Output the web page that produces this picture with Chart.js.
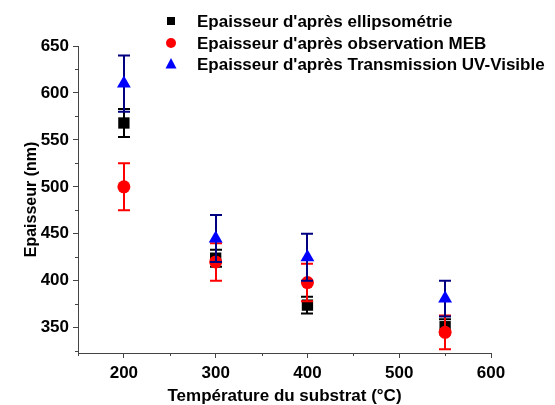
<!DOCTYPE html>
<html>
<head>
<meta charset="utf-8">
<script src="https://cdn.jsdelivr.net/npm/chart.js@4/dist/chart.umd.min.js"></script>
<style>
    html, body { margin: 0; padding: 0; background: #fff; }
</style>
</head>
<body>
<canvas id="epaisseur-chart" width="555" height="405"></canvas>
<script>
const temperatures = [200, 300, 400, 550];
const ellipsometrie = [568, 424, 374, 351];
const ellipsometrieErr = [15, 9, 9, 8];
const meb = [500, 420, 398, 345];
const mebErr = [25, 20, 20, 18];
const uvVisible = [610, 445, 425, 381];
const uvVisibleErr = [30, 25, 25, 19];

const seriesLabels = [
    "Epaisseur d'après ellipsométrie",
    "Epaisseur d'après observation MEB",
    "Epaisseur d'après Transmission UV-Visible",
];
const xTicks = [200, 300, 400, 500, 600];
const xMinorTicks = [150, 250, 350, 450, 550];
const yTicks = [350, 400, 450, 500, 550, 600, 650];
const yMinorTicks = [325, 375, 425, 475, 525, 575, 625];

const FONT = "'Liberation Sans', Arial, sans-serif";
const AXIS_COLOR = "#444";

function toPoints(values) {
    return temperatures.map((t, i) => ({ x: t, y: values[i] }));
}

// error bars are drawn just before each dataset so the markers sit on top
const errorBars = {
    id: "errorBars",
    beforeDatasetDraw(chart, args) {
        const ds = chart.data.datasets[args.index];
        const xs = chart.scales.x;
        const ys = chart.scales.y;
        const ctx = chart.ctx;
        ctx.save();
        ctx.strokeStyle = ds.errorColor;
        ctx.lineWidth = 2;
        ds.data.forEach((p, i) => {
            const px = Math.round(xs.getPixelForValue(p.x));
            const top = ys.getPixelForValue(p.y + ds.errors[i]);
            const bot = ys.getPixelForValue(p.y - ds.errors[i]);
            ctx.beginPath();
            ctx.moveTo(px, top);
            ctx.lineTo(px, bot);
            ctx.moveTo(px - 6, top);
            ctx.lineTo(px + 6, top);
            ctx.moveTo(px - 6, bot);
            ctx.lineTo(px + 6, bot);
            ctx.stroke();
        });
        ctx.restore();
    },
};

const minorTicks = {
    id: "minorTicks",
    afterDraw(chart) {
        const ctx = chart.ctx;
        const xs = chart.scales.x;
        const ys = chart.scales.y;
        const area = chart.chartArea;
        ctx.save();
        ctx.strokeStyle = AXIS_COLOR;
        ctx.lineWidth = 1;
        ctx.beginPath();
        xMinorTicks.forEach((v) => {
            const px = Math.round(xs.getPixelForValue(v)) + 0.5;
            ctx.moveTo(px, area.bottom);
            ctx.lineTo(px, area.bottom + 3);
        });
        yMinorTicks.forEach((v) => {
            const py = Math.round(ys.getPixelForValue(v)) + 0.5;
            ctx.moveTo(area.left, py);
            ctx.lineTo(area.left - 3, py);
        });
        ctx.stroke();
        ctx.restore();
    },
};

function drawMarker(ctx, shape, x, y, size, color) {
    ctx.fillStyle = color;
    ctx.beginPath();
    if (shape === "rect") {
        ctx.rect(x - size / 2, y - size / 2, size, size);
    } else if (shape === "circle") {
        ctx.arc(x, y, size / 2, 0, Math.PI * 2);
    } else {
        ctx.moveTo(x, y - size * 0.55);
        ctx.lineTo(x + size / 2, y + size * 0.4);
        ctx.lineTo(x - size / 2, y + size * 0.4);
        ctx.closePath();
    }
    ctx.fill();
}

const sideLegend = {
    id: "sideLegend",
    afterDraw(chart) {
        const ctx = chart.ctx;
        const rows = [21, 43, 64];
        const sizes = [8, 10, 11];
        ctx.save();
        chart.data.datasets.forEach((ds, i) => {
            drawMarker(ctx, ds.pointStyle, 171, rows[i], sizes[i], ds.backgroundColor);
            ctx.fillStyle = "#000";
            ctx.font = "bold 17px " + FONT;
            ctx.textBaseline = "middle";
            ctx.textAlign = "left";
            ctx.fillText(ds.label, 197, rows[i] + 1);
        });
        ctx.restore();
    },
};

const ctx = document.getElementById("epaisseur-chart").getContext("2d");
new Chart(ctx, {
    type: "scatter",
    data: {
        datasets: [
            {
                label: seriesLabels[0],
                data: toPoints(ellipsometrie),
                errors: ellipsometrieErr,
                errorColor: "#000000",
                pointStyle: "rect",
                pointRadius: 8,
                backgroundColor: "#000000",
                borderWidth: 0,
                order: 3,
            },
            {
                label: seriesLabels[1],
                data: toPoints(meb),
                errors: mebErr,
                errorColor: "#ff0000",
                pointStyle: "circle",
                pointRadius: 6.5,
                backgroundColor: "#ff0000",
                borderWidth: 0,
                order: 2,
            },
            {
                label: seriesLabels[2],
                data: toPoints(uvVisible),
                errors: uvVisibleErr,
                errorColor: "#000080",
                pointStyle: "triangle",
                pointRadius: 8,
                backgroundColor: "#0000ff",
                borderWidth: 0,
                order: 1,
            },
        ],
    },
    options: {
        responsive: false,
        animation: false,
        layout: { padding: { left: 0, right: 64, top: 46, bottom: 0 } },
        plugins: {
            legend: { display: false },
            tooltip: { enabled: false },
        },
        scales: {
            x: {
                type: "linear",
                min: 150,
                max: 600,
                afterBuildTicks: (scale) => {
                    scale.ticks = xTicks.map((v) => ({ value: v }));
                },
                afterFit: (scale) => {
                    scale.height = 52;
                },
                grid: {
                    drawOnChartArea: false,
                    drawTicks: true,
                    tickLength: 5,
                    color: AXIS_COLOR,
                },
                border: { display: true, color: AXIS_COLOR, width: 1 },
                ticks: {
                    color: "#000",
                    padding: 5,
                    maxRotation: 0,
                    font: { family: FONT, size: 17, weight: "bold" },
                },
                title: {
                    display: true,
                    text: "Température du substrat (°C)",
                    color: "#000",
                    padding: { top: 0, bottom: -2 },
                    font: { family: FONT, size: 17, weight: "bold" },
                },
            },
            y: {
                type: "linear",
                min: 323,
                max: 650,
                afterBuildTicks: (scale) => {
                    scale.ticks = yTicks.map((v) => ({ value: v }));
                },
                afterFit: (scale) => {
                    scale.width = 78;
                },
                grid: {
                    drawOnChartArea: false,
                    drawTicks: true,
                    tickLength: 5,
                    color: AXIS_COLOR,
                },
                border: { display: true, color: AXIS_COLOR, width: 1 },
                ticks: {
                    color: "#000",
                    padding: 4,
                    font: { family: FONT, size: 17, weight: "bold" },
                },
                title: {
                    display: true,
                    text: "Epaisseur (nm)",
                    color: "#000",
                    padding: { top: 22, bottom: 0 },
                    font: { family: FONT, size: 16, weight: "bold" },
                },
            },
        },
    },
    plugins: [errorBars, minorTicks, sideLegend],
});
</script>
</body>
</html>
